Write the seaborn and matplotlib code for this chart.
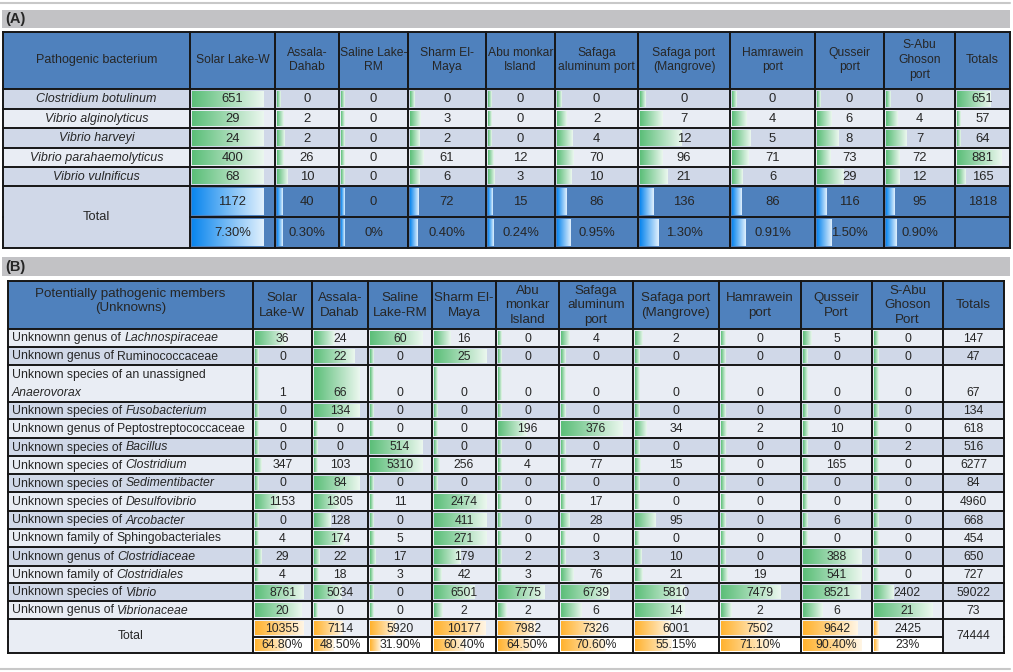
import numpy as np
import matplotlib
matplotlib.use("Agg")
import matplotlib.pyplot as plt
import seaborn as sns
from matplotlib.patches import Rectangle
from matplotlib.colors import LinearSegmentedColormap, to_rgb
from matplotlib import font_manager

# ---------------- data ----------------
sites_a = ["Solar Lake-W", "Assala-\nDahab", "Saline Lake-\nRM", "Sharm El-\nMaya", "Abu monkar\nIsland",
           "Safaga\naluminum port", "Safaga port\n(Mangrove)", "Hamrawein\nport", "Qusseir\nport",
           "S-Abu\nGhoson\nport"]
bact_a = ["Clostridium botulinum", "Vibrio alginolyticus", "Vibrio harveyi",
          "Vibrio parahaemolyticus", "Vibrio vulnificus"]
clostridium_botulinum = [651, 0, 0, 0, 0, 0, 0, 0, 0, 0]
vibrio_alginolyticus = [29, 2, 0, 3, 0, 2, 7, 4, 6, 4]
vibrio_harveyi = [24, 2, 0, 2, 0, 4, 12, 5, 8, 7]
vibrio_parahaemolyticus = [400, 26, 0, 61, 12, 70, 96, 71, 73, 72]
vibrio_vulnificus = [68, 10, 0, 6, 3, 10, 21, 6, 29, 12]
totals_a = [651, 57, 64, 881, 165]
site_total_a = [1172, 40, 0, 72, 15, 86, 136, 86, 116, 95]
grand_total_a = 1818
site_pct_a = [7.30, 0.30, 0, 0.40, 0.24, 0.95, 1.30, 0.91, 1.50, 0.90]
site_pct_a_labels = ["7.30%", "0.30%", "0%", "0.40%", "0.24%", "0.95%", "1.30%", "0.91%", "1.50%", "0.90%"]

sites_b = ["Solar\nLake-W", "Assala-\nDahab", "Saline\nLake-RM", "Sharm El-\nMaya", "Abu\nmonkar\nIsland",
           "Safaga\naluminum\nport", "Safaga port\n(Mangrove)", "Hamrawein\nport", "Qusseir\nPort",
           "S-Abu\nGhoson\nPort"]
prefix_b = ["Unknownn genus of", "Unknown genus of", "Unknown species of an unassigned\n",
            "Unknown species of", "Unknown genus of", "Unknown species of", "Unknown species of",
            "Unknown species of", "Unknown species of", "Unknown species of", "Unknown family of",
            "Unknown genus of", "Unknown family of", "Unknown species of", "Unknown genus of"]
taxon_b = ["Lachnospiraceae", "Ruminococcaceae", "Anaerovorax", "Fusobacterium", "Peptostreptococcaceae",
           "Bacillus", "Clostridium", "Sedimentibacter", "Desulfovibrio", "Arcobacter",
           "Sphingobacteriales", "Clostridiaceae", "Clostridiales", "Vibrio", "Vibrionaceae"]
taxon_italic_b = [True, False, True, True, False, True, True, True, True, True, False, True, True, True, True]
lachnospiraceae = [36, 24, 60, 16, 0, 4, 2, 0, 5, 0]
ruminococcaceae = [0, 22, 0, 25, 0, 0, 0, 0, 0, 0]
anaerovorax = [1, 66, 0, 0, 0, 0, 0, 0, 0, 0]
fusobacterium = [0, 134, 0, 0, 0, 0, 0, 0, 0, 0]
peptostreptococcaceae = [0, 0, 0, 0, 196, 376, 34, 2, 10, 0]
bacillus = [0, 0, 514, 0, 0, 0, 0, 0, 0, 2]
clostridium = [347, 103, 5310, 256, 4, 77, 15, 0, 165, 0]
sedimentibacter = [0, 84, 0, 0, 0, 0, 0, 0, 0, 0]
desulfovibrio = [1153, 1305, 11, 2474, 0, 17, 0, 0, 0, 0]
arcobacter = [0, 128, 0, 411, 0, 28, 95, 0, 6, 0]
sphingobacteriales = [4, 174, 5, 271, 0, 0, 0, 0, 0, 0]
clostridiaceae = [29, 22, 17, 179, 2, 3, 10, 0, 388, 0]
clostridiales = [4, 18, 3, 42, 3, 76, 21, 19, 541, 0]
vibrio = [8761, 5034, 0, 6501, 7775, 6739, 5810, 7479, 8521, 2402]
vibrionaceae = [20, 0, 0, 2, 2, 6, 14, 2, 6, 21]
totals_b = [147, 47, 67, 134, 618, 516, 6277, 84, 4960, 668, 454, 650, 727, 59022, 73]
site_total_b = [10355, 7114, 5920, 10177, 7982, 7326, 6001, 7502, 9642, 2425]
grand_total_b = 74444
site_pct_b = [64.80, 48.50, 31.90, 60.40, 64.50, 70.60, 55.15, 71.10, 90.40, 23]
site_pct_b_labels = ["64.80%", "48.50%", "31.90%", "60.40%", "64.50%", "70.60%", "55.15%", "71.10%",
                     "90.40%", "23%"]

rows_a = [clostridium_botulinum, vibrio_alginolyticus, vibrio_harveyi, vibrio_parahaemolyticus,
          vibrio_vulnificus]
rows_b = [lachnospiraceae, ruminococcaceae, anaerovorax, fusobacterium, peptostreptococcaceae, bacillus,
          clostridium, sedimentibacter, desulfovibrio, arcobacter, sphingobacteriales, clostridiaceae,
          clostridiales, vibrio, vibrionaceae]

# ---------------- style ----------------
sns.set_theme(style="white")
avail = {f.name for f in font_manager.fontManager.ttflist}
REG = ["Liberation Sans", "Arial", "DejaVu Sans"]
plt.rcParams["font.family"] = REG

narrow_name = None
for cand in ["Liberation Sans Narrow", "Arial Narrow"]:
    if cand in avail:
        narrow_name = cand
        break
if narrow_name is not None:
    NARROW = [narrow_name, "Liberation Sans", "DejaVu Sans"]
    FAH, FAN, FAV = 10.3, 10.3, 10.5
else:
    NARROW = REG
    FAH, FAN, FAV = 8.7, 9.0, 9.4

HEAD = "#4F81BD"
DARK = "#D0D8E8"
LIGHT = "#E9EDF4"
GREEN = "#5BBE78"
BLUE = "#0A86EE"
ORANGE = "#FFB22E"
LINE = "#161616"

fig = plt.figure(figsize=(10.13, 6.72), dpi=100)
ax = fig.add_axes([0, 0, 1, 1])
ax.set_xlim(0, 1013)
ax.set_ylim(672, 0)
ax.axis("off")


def cmap_for(c):
    r = np.array(to_rgb(c))
    end = r + (1 - r) * 0.88
    return LinearSegmentedColormap.from_list("g", [r, end])


CMAPS = {GREEN: cmap_for(GREEN), BLUE: cmap_for(BLUE), ORANGE: cmap_for(ORANGE)}
GRAD = np.linspace(0, 1, 256).reshape(1, -1)


def cell(x0, x1, y0, y1, fc):
    ax.add_patch(Rectangle((x0, y0), x1 - x0, y1 - y0, facecolor=fc, edgecolor="none", zorder=1))


def bar(x0, x1, y0, y1, frac, color):
    w = (x1 - x0 - 4) * frac
    ax.imshow(GRAD, cmap=CMAPS[color], extent=(x0 + 2, x0 + 2 + w, y1 - 2, y0 + 2),
              aspect="auto", interpolation="bilinear", zorder=2)


def fracs(vals, fmin=0.06, fmax=0.88):
    v = np.asarray(vals, dtype=float)
    lo, hi = v.min(), v.max()
    if hi == lo:
        return np.full(len(v), fmin)
    return fmin + (fmax - fmin) * (v - lo) / (hi - lo)


def grid(xe, ye, lw=1.4, skip=None):
    skip = skip or set()
    for j, x in enumerate(xe):
        for i in range(len(ye) - 1):
            if (x, i) in skip:
                continue
            ax.plot([x, x], [ye[i], ye[i + 1]], color=LINE, lw=lw, zorder=5, solid_capstyle="projecting")
    for i, y in enumerate(ye):
        for j in range(len(xe) - 1):
            if (j, y) in skip:
                continue
            ax.plot([xe[j], xe[j + 1]], [y, y], color=LINE, lw=lw, zorder=5, solid_capstyle="projecting")


# top decorations
ax.plot([0, 1010], [3, 3], color="#C8C8C8", lw=1.5, zorder=1)
ax.add_patch(Rectangle((2, 10), 1008, 18, facecolor="#C2C2C5", edgecolor="none"))
ax.text(5, 19.5, "(A)", fontsize=10.5, fontweight="bold", va="center", ha="left", family=REG)
ax.add_patch(Rectangle((2, 257), 1008, 19, facecolor="#C2C2C5", edgecolor="none"))
ax.text(5, 267, "(B)", fontsize=10.5, fontweight="bold", va="center", ha="left", family=REG)
ax.plot([0, 1010], [669, 669], color="#C8C8C8", lw=1.5, zorder=1)

# ---------------- table A ----------------
xa = [3, 190, 275, 339, 408, 486, 555, 638, 730, 815, 884, 955, 1010]
ya = [32, 89, 109, 128, 148, 167, 186, 217, 248]

for j in range(len(xa) - 1):
    cell(xa[j], xa[j + 1], ya[0], ya[1], HEAD)
ax.text((xa[0] + xa[1]) / 2, 60, "Pathogenic bacterium", ha="center", va="center", fontsize=FAH + 0.3,
        family=NARROW)
for j, s in enumerate(sites_a):
    ax.text((xa[j + 1] + xa[j + 2]) / 2, 60, s, ha="center", va="center", fontsize=FAH, family=NARROW,
            linespacing=1.3)
ax.text((xa[11] + xa[12]) / 2, 60, "Totals", ha="center", va="center", fontsize=FAH + 0.3, family=NARROW)

tot_f = fracs(totals_a)
for i, (name, vals) in enumerate(zip(bact_a, rows_a)):
    y0, y1 = ya[i + 1], ya[i + 2]
    fc = DARK if i % 2 == 0 else LIGHT
    yc = (y0 + y1) / 2 + 0.5
    for j in range(len(xa) - 1):
        cell(xa[j], xa[j + 1], y0, y1, fc)
    ax.text((xa[0] + xa[1]) / 2, yc, name, ha="center", va="center", fontsize=FAN, style="italic",
            family=NARROW)
    for j, (v, f) in enumerate(zip(vals, fracs(vals))):
        bar(xa[j + 1], xa[j + 2], y0, y1, f, GREEN)
        ax.text((xa[j + 1] + xa[j + 2]) / 2, yc, f"{v}", ha="center", va="center", fontsize=FAV,
                family=NARROW, zorder=4)
    bar(xa[11], xa[12], y0, y1, tot_f[i], GREEN)
    ax.text((xa[11] + xa[12]) / 2, yc, f"{totals_a[i]}", ha="center", va="center", fontsize=FAV,
            family=NARROW, zorder=4)

# totals of A
cell(xa[0], xa[1], ya[6], ya[8], DARK)
ax.text((xa[0] + xa[1]) / 2, (ya[6] + ya[8]) / 2, "Total", ha="center", va="center", fontsize=FAN + 0.3,
        family=NARROW)
for r, (vals, labs) in enumerate([(site_total_a, [str(v) for v in site_total_a]),
                                  (site_pct_a, site_pct_a_labels)]):
    y0, y1 = ya[6 + r], ya[7 + r]
    for j, (lab, f) in enumerate(zip(labs, fracs(vals))):
        cell(xa[j + 1], xa[j + 2], y0, y1, HEAD)
        bar(xa[j + 1], xa[j + 2], y0, y1, f, BLUE)
        ax.text((xa[j + 1] + xa[j + 2]) / 2, (y0 + y1) / 2 + 0.5, lab, ha="center", va="center",
                fontsize=FAV, family=NARROW, zorder=4)
    cell(xa[11], xa[12], y0, y1, HEAD)
ax.text((xa[11] + xa[12]) / 2, (ya[6] + ya[7]) / 2 + 0.5, str(grand_total_a), ha="center", va="center",
        fontsize=FAV, family=NARROW, zorder=4)
grid(xa, ya, skip={(0, ya[7])})

# ---------------- table B ----------------
xb = [8, 253, 312, 368, 432, 496, 559, 633, 719, 801, 872, 943, 1004]
yb = [281, 329, 347, 365, 402, 419, 438, 456, 474, 492, 511, 529, 547, 566, 583, 601, 619, 637, 653]
FB = 8.8
FH = 9.6

for j in range(len(xb) - 1):
    cell(xb[j], xb[j + 1], yb[0], yb[1], HEAD)
ax.text((xb[0] + xb[1]) / 2, 301, "Potentially pathogenic members\n(Unknowns)", ha="center", va="center",
        fontsize=FH, linespacing=1.25)
for j, s in enumerate(sites_b):
    ax.text((xb[j + 1] + xb[j + 2]) / 2, 305.5, s, ha="center", va="center", fontsize=FH, linespacing=1.25)
ax.text((xb[11] + xb[12]) / 2, 305.5, "Totals", ha="center", va="center", fontsize=FH)

fig.canvas.draw()
renderer = fig.canvas.get_renderer()
inv = ax.transData.inverted()


def text_width(s, **kw):
    t = ax.text(0, 0, s, **kw)
    bb = t.get_window_extent(renderer=renderer)
    t.remove()
    p0 = inv.transform((bb.x0, bb.y0))
    p1 = inv.transform((bb.x1, bb.y0))
    return p1[0] - p0[0]


space_w = text_width("a a", fontsize=FB) - text_width("aa", fontsize=FB)

for i, vals in enumerate(rows_b):
    y0, y1 = yb[i + 1], yb[i + 2]
    fc = LIGHT if i % 2 == 0 else DARK
    tall = (y1 - y0) > 25
    yc = (y0 + y1) / 2 + 0.5 if not tall else y1 - 8.5
    for j in range(len(xb) - 1):
        cell(xb[j], xb[j + 1], y0, y1, fc)
    pre = prefix_b[i]
    tstyle = "italic" if taxon_italic_b[i] else "normal"
    if pre.endswith("\n"):
        ax.text(12, y0 + 10, pre.strip(), ha="left", va="center", fontsize=FB)
        ax.text(12, y1 - 9, taxon_b[i], ha="left", va="center", fontsize=FB, style=tstyle)
    else:
        ax.text(12, yc, pre, ha="left", va="center", fontsize=FB)
        w = text_width(pre, fontsize=FB)
        ax.text(12 + w + space_w, yc, taxon_b[i], ha="left", va="center", fontsize=FB, style=tstyle)
    for j, (v, f) in enumerate(zip(vals, fracs(vals))):
        bar(xb[j + 1], xb[j + 2], y0, y1, f, GREEN)
        ax.text((xb[j + 1] + xb[j + 2]) / 2, yc, f"{v}", ha="center", va="center", fontsize=FB, zorder=4)
    ax.text((xb[11] + xb[12]) / 2, yc, f"{totals_b[i]}", ha="center", va="center", fontsize=FB, zorder=4)

# totals of B
cell(xb[0], xb[1], yb[16], yb[18], LIGHT)
ax.text((xb[0] + xb[1]) / 2, (yb[16] + yb[18]) / 2, "Total", ha="center", va="center", fontsize=FB)
for r, (vals, labs, fc) in enumerate([(site_total_b, [str(v) for v in site_total_b], LIGHT),
                                      (site_pct_b, site_pct_b_labels, "white")]):
    y0, y1 = yb[16 + r], yb[17 + r]
    for j, (lab, f) in enumerate(zip(labs, fracs(vals))):
        cell(xb[j + 1], xb[j + 2], y0, y1, fc)
        bar(xb[j + 1], xb[j + 2], y0, y1, f, ORANGE)
        ax.text((xb[j + 1] + xb[j + 2]) / 2, (y0 + y1) / 2 + 0.5, lab, ha="center", va="center",
                fontsize=FB, zorder=4)
cell(xb[11], xb[12], yb[16], yb[18], LIGHT)
ax.text((xb[11] + xb[12]) / 2, (yb[16] + yb[18]) / 2, str(grand_total_b), ha="center", va="center",
        fontsize=FB, zorder=4)
grid(xb, yb, skip={(0, yb[17]), (11, yb[17])})

fig.savefig("out.png", dpi=100)
